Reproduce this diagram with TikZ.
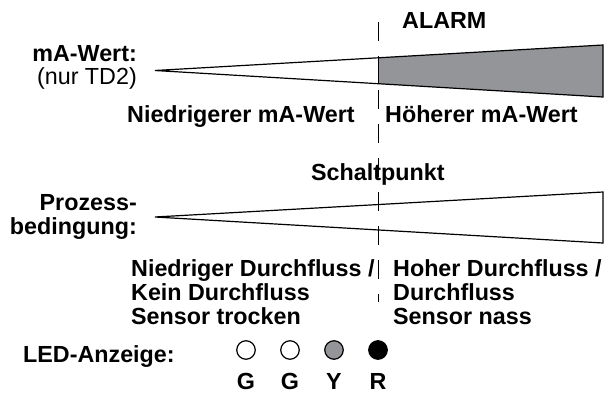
\documentclass[tikz,border=0pt]{standalone}
\usepackage{fontspec}
\setmainfont{Liberation Sans}
\usetikzlibrary{calc}
\definecolor{zonegray}{RGB}{147,149,152}
\begin{document}
\begin{tikzpicture}[x=1pt,y=-1pt,
  lbl/.style={font=\bfseries\fontsize{23.3}{24}\selectfont, inner sep=0pt},
  lblr/.style={font=\fontsize{23.3}{24}\selectfont, inner sep=0pt},
  wedge/.style={draw=black, line width=1.2pt, line join=miter},
  led/.style={circle, draw=black, line width=1.2pt, minimum size=18.5pt, inner sep=0pt},
  ledtxt/.style={lbl, anchor=base}]
\useasboundingbox (0,0) rectangle (608,394);
% switch point marker
\coordinate (st) at (378,22);
\coordinate (sb) at (378,302);
\draw[line width=1pt, dash pattern=on 19pt off 15pt] (st) -- (sb);
% upper wedge: mA value, alarm zone shaded
\coordinate (a1) at (155,70.5);
\coordinate (a2) at (603,45);
\coordinate (a3) at (603,97);
\fill[zonegray] ($(a1)!0.4978!(a2)$) -- (a2) -- (a3) -- ($(a1)!0.4978!(a3)$) -- cycle;
\draw[wedge] (a1) -- (a2) -- (a3) -- cycle;
\draw[line width=1pt] ($(a1)!0.4978!(a2)$) -- ($(a1)!0.4978!(a3)$);
% lower wedge: process condition
\coordinate (b1) at (155,217);
\coordinate (b2) at (603,192);
\coordinate (b3) at (603,243);
\draw[wedge] (b1) -- (b2) -- (b3) -- cycle;
% labels
\node[lbl, anchor=base west] (alarm) at (402,28) {ALARM};
\node[lbl, anchor=base east] (ma) at (137,61) {mA-Wert:};
\node[lblr, anchor=base east] (td) at (137,84) {(nur TD2)};
\node[lbl, anchor=base west] (lowma) at (127,122) {Niedrigerer mA-Wert};
\node[lbl, anchor=base west] (highma) at (385,122) {Höherer mA-Wert};
\node[lbl, anchor=base west] (sp) at (311,180) {Schaltpunkt};
\node[lbl, anchor=base east, align=right] (pb) at (137,234) {Prozess-\\bedingung:};
\node[lbl, anchor=base west, align=left] (low) at (131,324) {Niedriger Durchfluss /\\Kein Durchfluss\\Sensor trocken};
\node[lbl, anchor=base west, align=left] (high) at (393,324) {Hoher Durchfluss /\\Durchfluss\\Sensor nass};
\node[lbl, anchor=base west] (ledl) at (23,362) {LED-Anzeige:};
% LEDs
\node[led, fill=white] (l1) at (246,350) {};
\node[led, fill=white] (l2) at (290,350) {};
\node[led, fill=zonegray] (l3) at (334,350) {};
\node[led, fill=black] (l4) at (378,350) {};
\node[ledtxt] (t1) at (246,389.5) {G};
\node[ledtxt] (t2) at (290,389.5) {G};
\node[ledtxt] (t3) at (334,389.5) {Y};
\node[ledtxt] (t4) at (378,389.5) {R};
\end{tikzpicture}
\end{document}
